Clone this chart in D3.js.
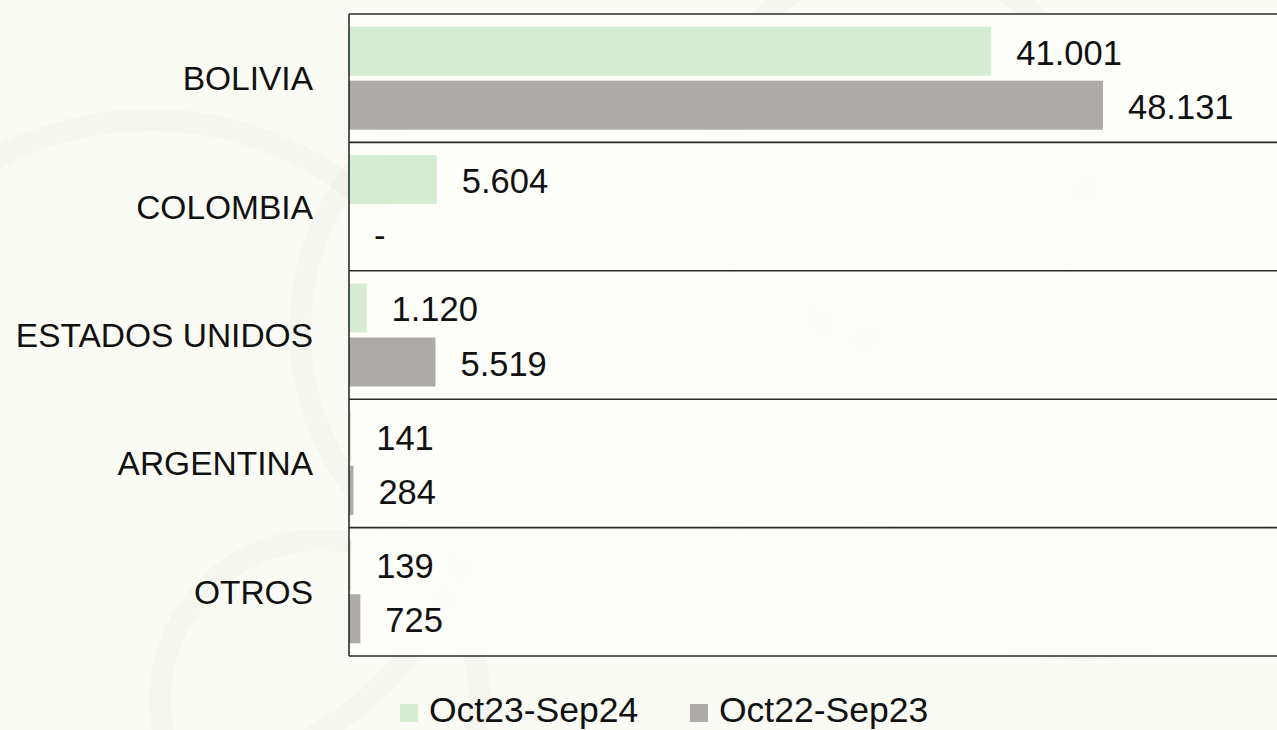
<!DOCTYPE html>
<html>
<head>
<meta charset="utf-8">
<script src="https://cdn.jsdelivr.net/npm/d3@7"></script>
<style>
html,body{margin:0;padding:0;background:#fbfbf6;}
svg{display:block;}
text{font-family:"Liberation Sans",Arial,Helvetica,sans-serif;fill:#111;}
</style>
</head>
<body>
<svg id="chart" width="1277" height="730"></svg>
<script>
const categories = ["BOLIVIA", "COLOMBIA", "ESTADOS UNIDOS", "ARGENTINA", "OTROS"];
const seriesNames = ["Oct23-Sep24", "Oct22-Sep23"];
const valuesCurrent = [41001, 5604, 1120, 141, 139];
const valuesPrevious = [48131, 0, 5519, 284, 725];
const colors = ["#d5ecd3", "#aeaaa9"];

const svg = d3.select("#chart");
const W = 1277, H = 730;
const plotLeft = 349, plotTop = 14, plotBottom = 656;

svg.append("rect").attr("width", W).attr("height", H).attr("fill", "#fbfbf6");

// faint decorative circles (background texture)
const deco = [[150,450,330],[560,330,260],[1080,420,230],[900,150,190],[320,700,160]];
svg.append("g").selectAll("circle").data(deco).join("circle")
  .attr("cx", d => d[0]).attr("cy", d => d[1]).attr("r", d => d[2])
  .attr("fill", "none").attr("stroke", "#000").attr("stroke-opacity", 0.018).attr("stroke-width", 22);

svg.append("rect").attr("x", plotLeft).attr("y", plotTop).attr("width", W - plotLeft).attr("height", plotBottom - plotTop)
  .attr("fill", "#fefefb").attr("fill-opacity", 0.85);

const x = d3.scaleLinear().domain([0, 60000]).range([plotLeft, plotLeft + 60000 * (754 / 48131)]);
const y = d3.scaleBand().domain(categories).range([plotTop, plotBottom]).paddingInner(0).paddingOuter(0);
const ySub = d3.scaleBand().domain(seriesNames).range([0, y.bandwidth()]).paddingInner(0.0926).paddingOuter(0.235);

const loc = d3.formatLocale({decimal: ",", thousands: ".", grouping: [3], currency: ["", ""]});
const fmt = v => v === 0 ? "-" : loc.format(",d")(v);

const data = [];
categories.forEach((c, i) => {
  data.push({cat: c, s: seriesNames[0], v: valuesCurrent[i], col: colors[0]});
  data.push({cat: c, s: seriesNames[1], v: valuesPrevious[i], col: colors[1]});
});

svg.append("g").selectAll("rect").data(data).join("rect")
  .attr("x", x(0))
  .attr("y", d => y(d.cat) + ySub(d.s))
  .attr("width", d => x(d.v) - x(0))
  .attr("height", ySub.bandwidth())
  .attr("fill", d => d.col);

svg.append("g").selectAll("text").data(data).join("text")
  .attr("x", d => x(d.v) + 25)
  .attr("y", d => y(d.cat) + ySub(d.s) + ySub.bandwidth() / 2 + 13.5)
  .attr("font-size", 34.5)
  .text(d => fmt(d.v));

// separators
const bounds = categories.map(c => y(c)).concat([plotBottom]);
svg.append("g").selectAll("line").data(bounds).join("line")
  .attr("x1", plotLeft).attr("x2", W).attr("y1", d => d).attr("y2", d => d)
  .attr("stroke", "#2a2a2a").attr("stroke-width", 1.6);
svg.append("line").attr("x1", plotLeft).attr("x2", plotLeft).attr("y1", plotTop).attr("y2", plotBottom)
  .attr("stroke", "#2a2a2a").attr("stroke-width", 1.6);

// category labels
svg.append("g").selectAll("text").data(categories).join("text")
  .attr("x", 313).attr("y", d => y(d) + y.bandwidth() / 2 + 12)
  .attr("text-anchor", "end").attr("font-size", 33.5)
  .text(d => d);

// legend
const legend = [{n: seriesNames[0], c: colors[0], x: 400}, {n: seriesNames[1], c: colors[1], x: 690}];
const lg = svg.append("g").selectAll("g").data(legend).join("g");
lg.append("rect").attr("x", d => d.x).attr("y", 704).attr("width", 18).attr("height", 18).attr("fill", d => d.c);
lg.append("text").attr("x", d => d.x + 29).attr("y", 722).attr("font-size", 35.5).text(d => d.n);
</script>
</body>
</html>
